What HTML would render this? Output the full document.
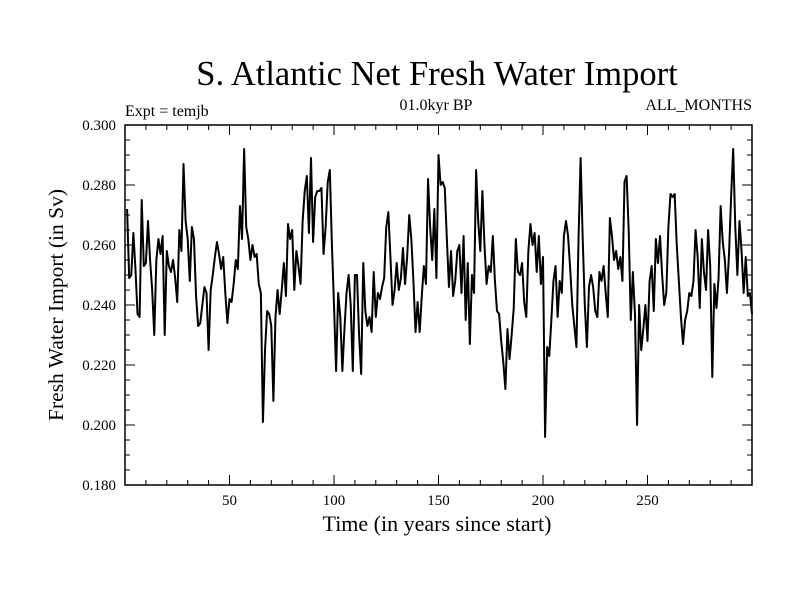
<!DOCTYPE html>
<html><head><meta charset="utf-8"><style>
body{margin:0;background:#fff}
svg{display:block;font-family:"Liberation Serif",serif}
</style></head><body>
<svg id="chart" width="800" height="600">
<rect width="800" height="600" fill="#fff"/>
<text x="437" y="85" font-size="34.5" text-anchor="middle">S. Atlantic Net Fresh Water Import</text>
<text x="125" y="116" font-size="16">Expt = temjb</text>
<text x="436" y="110" font-size="16" text-anchor="middle">01.0kyr BP</text>
<text x="752" y="110" font-size="16" text-anchor="end">ALL_MONTHS</text>
<text transform="translate(63,305) rotate(-90)" font-size="21.5" text-anchor="middle">Fresh Water Import (in Sv)</text>
<text x="437" y="531" font-size="22" text-anchor="middle">Time (in years since start)</text>
<g id="axes"></g>
<path id="series" fill="none" stroke="#000" stroke-width="2" stroke-linejoin="round"/>
<rect x="125" y="125" width="627" height="360" fill="none" stroke="#000" stroke-width="1.5"/>
</svg>
<script>
const startYear = 1;
const values = [
.272,.249,.250,.264,.252,.237,.236,.275,.253,.254,
.268,.255,.245,.230,.255,.262,.257,.263,.230,.258,
.253,.251,.255,.249,.241,.265,.258,.287,.268,.262,
.248,.266,.262,.243,.233,.234,.240,.246,.244,.225,
.245,.250,.256,.261,.257,.252,.256,.244,.234,.242,
.241,.247,.255,.252,.273,.262,.292,.266,.262,.255,
.260,.256,.257,.247,.244,.201,.225,.238,.237,.233,
.208,.236,.245,.237,.245,.254,.243,.267,.262,.265,
.245,.258,.253,.247,.268,.278,.283,.264,.289,.261,
.276,.278,.278,.279,.257,.266,.281,.285,.260,.240,
.218,.244,.236,.218,.232,.244,.250,.240,.218,.250,
.250,.230,.217,.254,.238,.233,.236,.231,.251,.236,
.244,.242,.246,.249,.266,.271,.256,.240,.245,.254,
.245,.249,.259,.247,.256,.270,.262,.248,.231,.241,
.231,.243,.253,.247,.282,.266,.255,.272,.249,.290,
.280,.281,.279,.262,.246,.258,.243,.248,.258,.260,
.244,.263,.235,.254,.227,.250,.244,.285,.268,.258,
.278,.260,.247,.253,.251,.263,.248,.238,.237,.228,
.221,.212,.232,.222,.230,.239,.262,.251,.250,.254,
.241,.236,.258,.267,.260,.264,.251,.263,.247,.256,
.196,.226,.223,.235,.248,.253,.236,.248,.244,.263,
.268,.263,.252,.240,.233,.226,.262,.289,.262,.240,
.226,.246,.250,.246,.238,.236,.251,.248,.253,.244,
.236,.269,.263,.255,.258,.252,.256,.248,.281,.283,
.265,.235,.251,.237,.200,.240,.225,.232,.240,.228,
.248,.253,.238,.262,.254,.263,.250,.240,.244,.266,
.277,.276,.277,.260,.248,.236,.227,.235,.238,.244,
.243,.248,.265,.256,.239,.262,.251,.245,.265,.253,
.216,.247,.239,.249,.273,.261,.255,.244,.257,.276,
.292,.266,.250,.268,.258,.244,.256,.243,.244,.237
];
const xTicks = [50,100,150,200,250];
const yTicks = [0.180,0.200,0.220,0.240,0.260,0.280,0.300];
const yTickLabels = ["0.180","0.200","0.220","0.240","0.260","0.280","0.300"];

const X0=125,X1=752,Y0=485,Y1=125, xMin=0, xMax=300, yMin=0.18, yMax=0.30;
const xs = v => X0 + (v - xMin) / (xMax - xMin) * (X1 - X0);
const ys = v => Y0 - (v - yMin) / (yMax - yMin) * (Y0 - Y1);
const NS="http://www.w3.org/2000/svg";
const axes=document.getElementById('axes');
function line(x1,y1,x2,y2,name){
  const l=document.createElementNS(NS,'line');
  l.setAttribute('x1',x1);l.setAttribute('y1',y1);l.setAttribute('x2',x2);l.setAttribute('y2',y2);
  l.setAttribute('stroke','#000');l.setAttribute('stroke-width','1');
  
  
  axes.appendChild(l);
}
function txt(x,y,s,anchor,name){
  const t=document.createElementNS(NS,'text');
  t.setAttribute('x',x);t.setAttribute('y',y);t.setAttribute('font-size','15');t.setAttribute('text-anchor',anchor);
  t.textContent=s;
  
  
  axes.appendChild(t);
}
for(let v=10; v<300; v+=10){
  const big = v%50===0;
  const L = big?10:5;
  line(xs(v),Y0,xs(v),Y0-L,'x-tick');
  line(xs(v),Y1,xs(v),Y1+L,'x-tick-top');
}
xTicks.forEach(v=>txt(xs(v),505,String(v),'middle','x-tick-label'));
for(let i=0;i<=24;i++){
  const v=yMin+i*0.005;
  const big = i%4===0;
  const L = big?10:5;
  line(X0,ys(v),X0+L,ys(v),'y-tick');
  line(X1,ys(v),X1-L,ys(v),'y-tick-right');
}
yTicks.forEach((v,i)=>txt(116,ys(v)+5,yTickLabels[i],'end','y-tick-label'));
let d='';
values.forEach((v,i)=>{ d += (i?'L':'M') + xs(startYear+i).toFixed(2) + ',' + ys(v).toFixed(2); });
document.getElementById('series').setAttribute('d',d);
</script>
</body></html>
